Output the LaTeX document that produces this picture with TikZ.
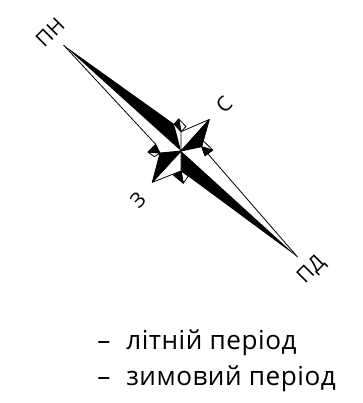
\documentclass[tikz,border=0pt]{standalone}
\usepackage{fontspec}
\setmainfont[LetterSpace=2]{Open Sans}
\tikzset{
  lab/.style={font=\fontsize{15.5}{16}\selectfont, inner sep=0pt, rotate=45},
  leg/.style={font=\fontsize{19.6}{20}\selectfont, inner sep=0pt, anchor=base west},
  ln/.style={draw=black, line width=0.6pt, line join=round},
  blk/.style={ln, fill=black},
  wht/.style={ln, fill=white}
}
\begin{document}
\begin{tikzpicture}[x=0.75pt,y=-0.75pt]
\useasboundingbox (0,0) rectangle (363,403);
\coordinate (C) at (181,151);
\coordinate (NW) at (63.5,45);
\coordinate (SE) at (297.5,257);
\coordinate (NE) at (209.3,119.5);
\coordinate (SW) at (152.3,182.3);
\coordinate (T) at (178.7,119);
\coordinate (R) at (212.7,150);
\coordinate (B) at (183.3,183.3);
\coordinate (L) at (148,152);
\coordinate (a) at (181,131.7);
\coordinate (b) at (201.7,146.7);
\coordinate (c) at (181,171);
\coordinate (d) at (160,153);
\coordinate (e) at (174,124);
\coordinate (j) at (186,126.5);
\coordinate (k) at (202.3,140);
\coordinate (m) at (205,155.7);
\coordinate (n) at (188.3,176);
\coordinate (o) at (173.3,175);
\coordinate (p) at (155.7,144.3);
\coordinate (q) at (154.3,156.7);
% thin outlines of the summer rays
\draw[ln] (NW) -- (p);
\draw[ln] (SE) -- (b);
% small rays
\draw[wht] (T) -- (j) -- (a) -- cycle;
\draw[blk] (T) -- (a) -- (e) -- cycle;
\draw[wht] (R) -- (k) -- (b) -- (m) -- cycle;
\draw[blk] (R) -- (b) -- (m) -- cycle;
\draw[wht] (B) -- (n) -- (c) -- cycle;
\draw[blk] (B) -- (c) -- (o) -- cycle;
\draw[wht] (L) -- (d) -- (q) -- cycle;
\draw[blk] (L) -- (p) -- (d) -- cycle;
% winter rays
\fill[black] (NW) -- (e) -- (C) -- cycle;
\fill[black] (SE) -- (c) -- (C) -- cycle;
% big rays
\draw[wht] (NE) -- (a) -- (C) -- cycle;
\draw[blk] (NE) -- (b) -- (C) -- cycle;
\draw[wht] (SW) -- (c) -- (C) -- cycle;
\draw[blk] (SW) -- (d) -- (C) -- cycle;
\node[lab] (pn) at (50,32.7) {ПН};
\node[lab] (s) at (224,105) {С};
\node[lab] (z) at (138,200.5) {З};
\node[lab] (pd) at (311.7,270.5) {ПД};
\node[leg] (l1) at (97,349) {–\hspace{12pt}літній період};
\node[leg] (l2) at (97,385) {–\hspace{12pt}зимовий період};
\end{tikzpicture}
\end{document}
